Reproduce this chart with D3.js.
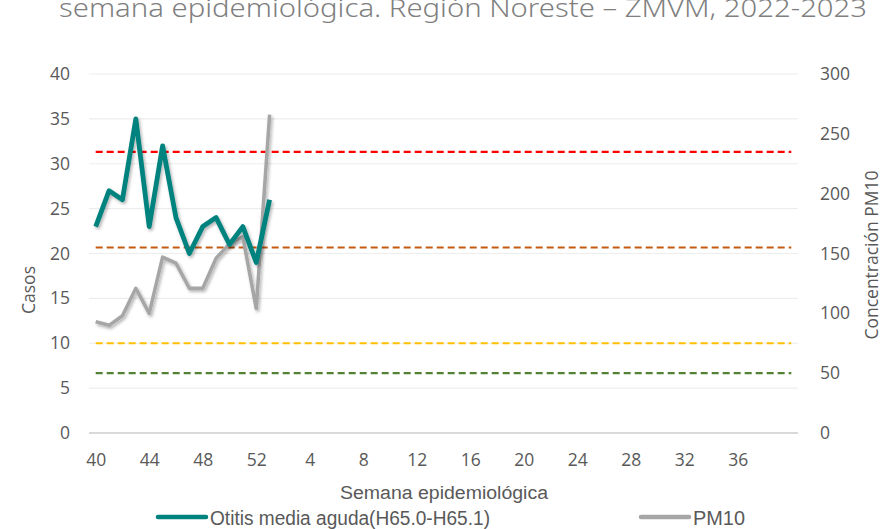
<!DOCTYPE html>
<html>
<head>
<meta charset="utf-8">
<script src="https://cdn.jsdelivr.net/npm/d3@7"></script>
<style>
    body { margin: 0; background: #ffffff; }
    svg { display: block; }
</style>
</head>
<body>
<div class="mainBody"></div>
<script>
// semanas epidemiológicas 2022 (40-52) y 2023 (1-39); la última categoría va vacía
var weeks = [40, 41, 42, 43, 44, 45, 46, 47, 48, 49, 50, 51, 52,
    1, 2, 3, 4, 5, 6, 7, 8, 9, 10, 11, 12, 13, 14, 15, 16, 17, 18, 19, 20,
    21, 22, 23, 24, 25, 26, 27, 28, 29, 30, 31, 32, 33, 34, 35, 36, 37, 38, 39, ""];
var casos = [23, 27, 26, 35, 23, 32, 24, 20, 23, 24, 21, 23, 19, 26];
var pm10 = [93, 90, 98, 121, 100, 147, 142, 121, 121, 146, 158, 164, 104, 266];
// límites de calidad del aire PM10
var limits = [50, 75, 155, 235];
var limitColors = ["#548235", "#FFC000", "#C55A11", "#FF0000"];
var leftTicks = [0, 5, 10, 15, 20, 25, 30, 35, 40];
var rightTicks = [0, 50, 100, 150, 200, 250, 300];

var width = 884, height = 529;
var svg, x, yLeft, yRight;

function generateSvg() {
    svg = d3.select("div.mainBody").append("svg")
        .attr("width", width)
        .attr("height", height);
    let filter = svg.append("defs").append("filter")
        .attr("id", "shadow")
        .attr("x", "-20%").attr("y", "-20%")
        .attr("width", "140%").attr("height", "140%");
    filter.append("feDropShadow")
        .attr("dx", 1.5).attr("dy", 2)
        .attr("stdDeviation", 1.5)
        .attr("flood-color", "#000")
        .attr("flood-opacity", 0.3);

    x = d3.scalePoint().domain(d3.range(weeks.length)).range([89, 798]).padding(0.5);
    yLeft = d3.scaleLinear().domain([0, 40]).range([433, 74]);
    yRight = d3.scaleLinear().domain([0, 300]).range([433, 74]);
}

function generateTitle() {
    svg.append("text")
        .attr("x", 463)
        .attr("y", 17)
        .attr("text-anchor", "middle")
        .attr("textLength", 808)
        .attr("lengthAdjust", "spacingAndGlyphs")
        .style("font-family", "'Noto Sans', 'Open Sans', sans-serif")
        .style("font-weight", 300)
        .style("font-size", "25px")
        .style("fill", "#7f7f7f")
        .text("semana epidemiológica. Región Noreste – ZMVM, 2022-2023");
}

function generateGrid() {
    svg.append("g").attr("class", "grid")
        .selectAll("line")
        .data(leftTicks.filter(function(d) { return d > 0; }))
        .enter().append("line")
        .attr("x1", 89).attr("x2", 798)
        .attr("y1", function(d) { return yLeft(d); })
        .attr("y2", function(d) { return yLeft(d); })
        .style("stroke", "#ededed")
        .style("stroke-width", 1.2);
    svg.append("line")
        .attr("x1", 89).attr("x2", 798)
        .attr("y1", yLeft(0)).attr("y2", yLeft(0))
        .style("stroke", "#d9d9d9")
        .style("stroke-width", 2);
}

function generateAxes() {
    let tickStyle = function(sel) {
        sel.select(".domain").remove();
        sel.selectAll(".tick line").remove();
        sel.selectAll(".tick text")
            .style("font-family", "'Open Sans', sans-serif")
            .style("font-size", "17.5px")
            .style("fill", "#595959");
    };
    svg.append("g")
        .attr("transform", "translate(89,0)")
        .call(d3.axisLeft(yLeft).tickValues(leftTicks).tickSize(0).tickPadding(19))
        .call(tickStyle);
    svg.append("g")
        .attr("transform", "translate(798,0)")
        .call(d3.axisRight(yRight).tickValues(rightTicks).tickSize(0).tickPadding(22))
        .call(tickStyle);
    svg.append("g")
        .attr("transform", "translate(0,433)")
        .call(d3.axisBottom(x)
            .tickValues(d3.range(0, weeks.length, 4))
            .tickFormat(function(i) { return weeks[i]; })
            .tickSize(0).tickPadding(21))
        .call(tickStyle);

    svg.append("text")
        .attr("transform", "translate(35,290) rotate(-90)")
        .attr("text-anchor", "middle")
        .style("font-family", "'Open Sans', sans-serif")
        .style("font-size", "17.5px")
        .style("fill", "#595959")
        .text("Casos");
    svg.append("text")
        .attr("transform", "translate(878,255) rotate(-90)")
        .attr("text-anchor", "middle")
        .style("font-family", "'Open Sans', sans-serif")
        .style("font-size", "17.5px")
        .style("fill", "#595959")
        .text("Concentración PM10");
    svg.append("text")
        .attr("x", 444)
        .attr("y", 499)
        .attr("text-anchor", "middle")
        .attr("textLength", 208)
        .attr("lengthAdjust", "spacingAndGlyphs")
        .style("font-family", "'Liberation Sans Narrow', sans-serif")
        .style("font-size", "18px")
        .style("fill", "#595959")
        .text("Semana epidemiológica");
}

function generateLimits() {
    svg.append("g").attr("class", "limits")
        .selectAll("line")
        .data(limits)
        .enter().append("line")
        .attr("x1", x(0))
        .attr("x2", x(weeks.length - 1))
        .attr("y1", function(d) { return yRight(d); })
        .attr("y2", function(d) { return yRight(d); })
        .style("stroke", function(d, i) { return limitColors[i]; })
        .style("stroke-width", 2.2)
        .style("stroke-dasharray", "7,4");
}

function generateLines() {
    let pmLine = d3.line()
        .x(function(d, i) { return x(i); })
        .y(function(d) { return yRight(d); });
    let casosLine = d3.line()
        .x(function(d, i) { return x(i); })
        .y(function(d) { return yLeft(d); });
    svg.append("path")
        .datum(pm10)
        .attr("d", pmLine)
        .attr("filter", "url(#shadow)")
        .style("fill", "none")
        .style("stroke", "#A6A6A6")
        .style("stroke-width", 3.5)
        .style("stroke-linejoin", "round");
    svg.append("path")
        .datum(casos)
        .attr("d", casosLine)
        .attr("filter", "url(#shadow)")
        .style("fill", "none")
        .style("stroke", "#00827F")
        .style("stroke-width", 4.8)
        .style("stroke-linejoin", "round");
}

function generateLegend() {
    let items = [
        { name: "Otitis media aguda(H65.0-H65.1)", color: "#00827F", x: 158, len: 280 },
        { name: "PM10", color: "#A6A6A6", x: 641, len: 52 }
    ];
    let legend = svg.append("g").attr("class", "legend")
        .selectAll("g")
        .data(items)
        .enter().append("g")
        .attr("transform", function(d) { return `translate(${d.x},517)`; });
    legend.append("line")
        .attr("x1", 0).attr("x2", 48)
        .attr("y1", 0).attr("y2", 0)
        .style("stroke", function(d) { return d.color; })
        .style("stroke-width", 4.5)
        .style("stroke-linecap", "round");
    legend.append("text")
        .attr("x", 52)
        .attr("y", 8)
        .attr("textLength", function(d) { return d.len; })
        .attr("lengthAdjust", "spacingAndGlyphs")
        .style("font-family", "'Liberation Sans Narrow', sans-serif")
        .style("font-size", "19.5px")
        .style("fill", "#595959")
        .text(function(d) { return d.name; });
}

function initialLoad() {
    generateSvg();
    generateTitle();
    generateGrid();
    generateAxes();
    generateLimits();
    generateLines();
    generateLegend();
}

initialLoad();
</script>
</body>
</html>
